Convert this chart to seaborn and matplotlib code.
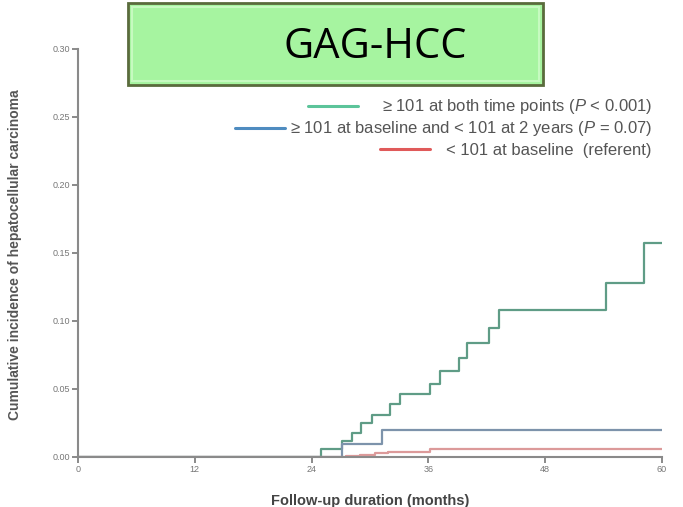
import matplotlib
matplotlib.use("Agg")
import matplotlib.pyplot as plt
from matplotlib.patches import Rectangle
from matplotlib.lines import Line2D
import pandas as pd
import seaborn as sns

# Cumulative incidence of HCC by GAG-HCC group (step functions)
months_both = [0, 25.0, 27.1, 28.1, 29.1, 30.2, 32.1, 33.1, 36.2, 37.2, 39.1, 40.0, 42.2, 43.3, 54.2, 58.2, 60]
inc_both = [0, 0.006, 0.012, 0.018, 0.025, 0.031, 0.039, 0.046, 0.054, 0.063, 0.073, 0.084, 0.095, 0.108, 0.128, 0.157, 0.157]

months_drop = [0, 27.1, 31.2, 60]
inc_drop = [0, 0.0098, 0.0197, 0.0197]

months_low = [0, 27.5, 29.0, 30.5, 31.8, 36.2, 60]
inc_low = [0, 0.0009, 0.0018, 0.0027, 0.0036, 0.0057, 0.0057]

groups = ["\u2265 101 at both time points",
          "\u2265 101 at baseline and < 101 at 2 years",
          "< 101 at baseline"]
legend_labels = ["\u2265 101 at both time points ($\\it{P}$ < 0.001)",
                 "\u2265 101 at baseline and < 101 at 2 years ($\\it{P}$ = 0.07)",
                 "< 101 at baseline  (referent)"]
line_colors = ["#5f9c86", "#7d93ab", "#dc9a9a"]
key_colors = ["#5cc49a", "#4f8cc0", "#e05a5a"]

x_ticks = [0, 12, 24, 36, 48, 60]
y_ticks = [0.00, 0.05, 0.10, 0.15, 0.20, 0.25, 0.30]

df = pd.concat([
    pd.DataFrame({"month": months_both, "incidence": inc_both, "group": groups[0]}),
    pd.DataFrame({"month": months_drop, "incidence": inc_drop, "group": groups[1]}),
    pd.DataFrame({"month": months_low, "incidence": inc_low, "group": groups[2]}),
])

sns.set_style("white")
plt.rcParams["font.family"] = ["Liberation Sans", "DejaVu Sans"]
plt.rcParams["mathtext.fontset"] = "custom"
plt.rcParams["mathtext.it"] = "Liberation Sans:italic"

W, H = 683, 507
fig = plt.figure(figsize=(W / 100, H / 100), dpi=100)
ax = fig.add_axes([78 / W, 1 - 457 / H, (662 - 78) / W, (457 - 49) / H])

sns.lineplot(data=df, x="month", y="incidence", hue="group", hue_order=groups,
             palette=line_colors, drawstyle="steps-post", estimator=None, sort=False,
             linewidth=1.6, legend=False, ax=ax)

ax.set_xlim(0, 60)
ax.set_ylim(0, 0.30)
ax.set_xticks(x_ticks)
ax.set_xticklabels([str(t) for t in x_ticks])
ax.set_yticks(y_ticks)
ax.set_yticklabels([f"{v:.2f}" for v in y_ticks])
ax.tick_params(axis="both", bottom=True, left=True, labelsize=6.5, colors="#777777",
               length=4, width=1.2, pad=2)
for side in ("top", "right"):
    ax.spines[side].set_visible(False)
for side in ("left", "bottom"):
    ax.spines[side].set_color("#8a8a8a")
    ax.spines[side].set_linewidth(1.5)

ax.set_ylabel("Cumulative incidence of hepatocellular carcinoma", fontsize=10,
              fontweight="bold", color="#555555")
ax.yaxis.set_label_coords((22 - 78) / (662 - 78), 0.495)
ax.set_xlabel("Follow-up duration (months)", fontsize=10.5, fontweight="bold", color="#444444")
ax.xaxis.set_label_coords(0.5, (457 - 494) / (457 - 49))

# Group key: one right-aligned row per group
rows_y = [107, 129, 150]
pads = [1.4, 0.3, 1.0]
for label, color, y, pad in zip(legend_labels, key_colors, rows_y, pads):
    handle = Line2D([], [], color=color, linewidth=2.2)
    leg = fig.legend([handle], [label], loc="center right",
                     bbox_to_anchor=(652 / W, 1 - y / H), frameon=False,
                     fontsize=12, handlelength=3.0, handletextpad=pad,
                     borderpad=0, borderaxespad=0)
    for t in leg.get_texts():
        t.set_color("#555555")

# Title banner
bx0, by0, bx1, by1 = 128, 3, 543, 85
fig.patches.append(Rectangle((bx0 / W, 1 - by1 / H), (bx1 - bx0) / W, (by1 - by0) / H,
                             transform=fig.transFigure, facecolor="#a6f4a0",
                             edgecolor="#5a6b3c", linewidth=2.0, zorder=5))
fig.patches.append(Rectangle(((bx0 + 4) / W, 1 - (by1 - 4) / H), (bx1 - bx0 - 8) / W,
                             (by1 - by0 - 8) / H, transform=fig.transFigure,
                             facecolor="none", edgecolor="#c6fac0", linewidth=1.5, zorder=6))
fig.text(375 / W, 1 - 47 / H, "GAG-HCC", fontsize=30, color="black",
         family=["Open Sans", "DejaVu Sans"], ha="center", va="center", zorder=7)

fig.savefig("out.png", dpi=100)
